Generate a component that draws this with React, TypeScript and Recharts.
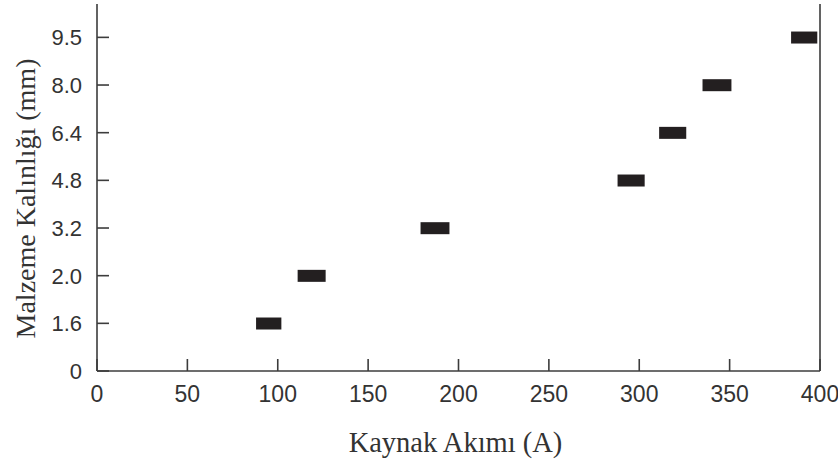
import React from 'react';
import { ComposedChart, Bar, XAxis, YAxis, ReferenceLine } from 'recharts';

const thicknessLabels = ['0', '1.6', '2.0', '3.2', '4.8', '6.4', '8.0', '9.5'];
const currentMin = [88, 111, 179, 288, 311, 335, 384];
const currentMax = [102, 126.5, 195, 303, 326, 351, 398.5];
const xTicks = [0, 50, 100, 150, 200, 250, 300, 350, 400];

const data = currentMin.map((lo, i) => ({
  idx: i + 1,
  label: thicknessLabels[i + 1],
  range: [lo, currentMax[i]],
}));
const yTicks = thicknessLabels.map((_, i) => i);

const AXIS = '#3c3c3c';
const TEXT = '#333333';
const SANS = '"Liberation Sans", Arial, sans-serif';
const SERIF = '"Liberation Serif", "Times New Roman", serif';

const Y_MARGIN = 15;
const X_MARGIN = 14;

const YTick = (props: any) => {
  const { x, y, payload } = props;
  const ax = x + Y_MARGIN;
  return (
    <g>
      <line x1={ax} x2={ax + 12} y1={y} y2={y} stroke={AXIS} strokeWidth={1.6} />
      <text x={x} y={y} dy={8} textAnchor="end" fontFamily={SANS} fontSize={22} fill={TEXT}>
        {thicknessLabels[payload.value]}
      </text>
    </g>
  );
};

const XTick = (props: any) => {
  const { x, y, payload } = props;
  const ay = y - X_MARGIN;
  return (
    <g>
      <line x1={x} x2={x} y1={ay} y2={ay - 12} stroke={AXIS} strokeWidth={1.6} />
      <text x={x} y={y} dy={17} textAnchor="middle" fontFamily={SANS} fontSize={23} fill={TEXT}>
        {payload.value}
      </text>
    </g>
  );
};

const YTitle = (props: any) => {
  const vb = props.viewBox || {};
  const cx = vb.x + 25;
  const cy = vb.y + vb.height / 2 + 11;
  return (
    <text
      x={cx}
      y={cy}
      transform={`rotate(-90 ${cx} ${cy})`}
      textAnchor="middle"
      dominantBaseline="central"
      fontFamily={SERIF}
      fontSize={28}
      fill={TEXT}
    >
      Malzeme Kalınlığı (mm)
    </text>
  );
};

const XTitle = (props: any) => {
  const vb = props.viewBox || {};
  const cx = vb.x + vb.width / 2 - 3;
  const cy = 452;
  return (
    <text x={cx} y={cy} textAnchor="middle" fontFamily={SERIF} fontSize={28.5} fill={TEXT}>
      Kaynak Akımı (A)
    </text>
  );
};

export default function App() {
  return (
    <div style={{ position: 'absolute', left: 0, top: 0, background: '#fff' }}>
      <ComposedChart
        width={838}
        height={466}
        data={data}
        layout="vertical"
        margin={{ top: 4, right: 18, left: 0, bottom: 0 }}
      >
        <XAxis
          type="number"
          domain={[0, 400]}
          ticks={xTicks}
          interval={0}
          height={95}
          tickSize={0}
          tickMargin={X_MARGIN}
          tickLine={false}
          axisLine={{ stroke: AXIS, strokeWidth: 1.6 }}
          tick={<XTick />}
          label={<XTitle />}
        />
        <YAxis
          type="number"
          dataKey="idx"
          domain={[0, 7.7]}
          ticks={yTicks}
          interval={0}
          reversed
          width={97}
          tickSize={0}
          tickMargin={Y_MARGIN}
          tickLine={false}
          axisLine={{ stroke: AXIS, strokeWidth: 1.6 }}
          tick={<YTick />}
          label={<YTitle />}
        />
        <ReferenceLine x={400} stroke={AXIS} strokeWidth={1.6} />
        <Bar dataKey="range" barSize={12} fill="#231f20" isAnimationActive={false} />
      </ComposedChart>
    </div>
  );
}
